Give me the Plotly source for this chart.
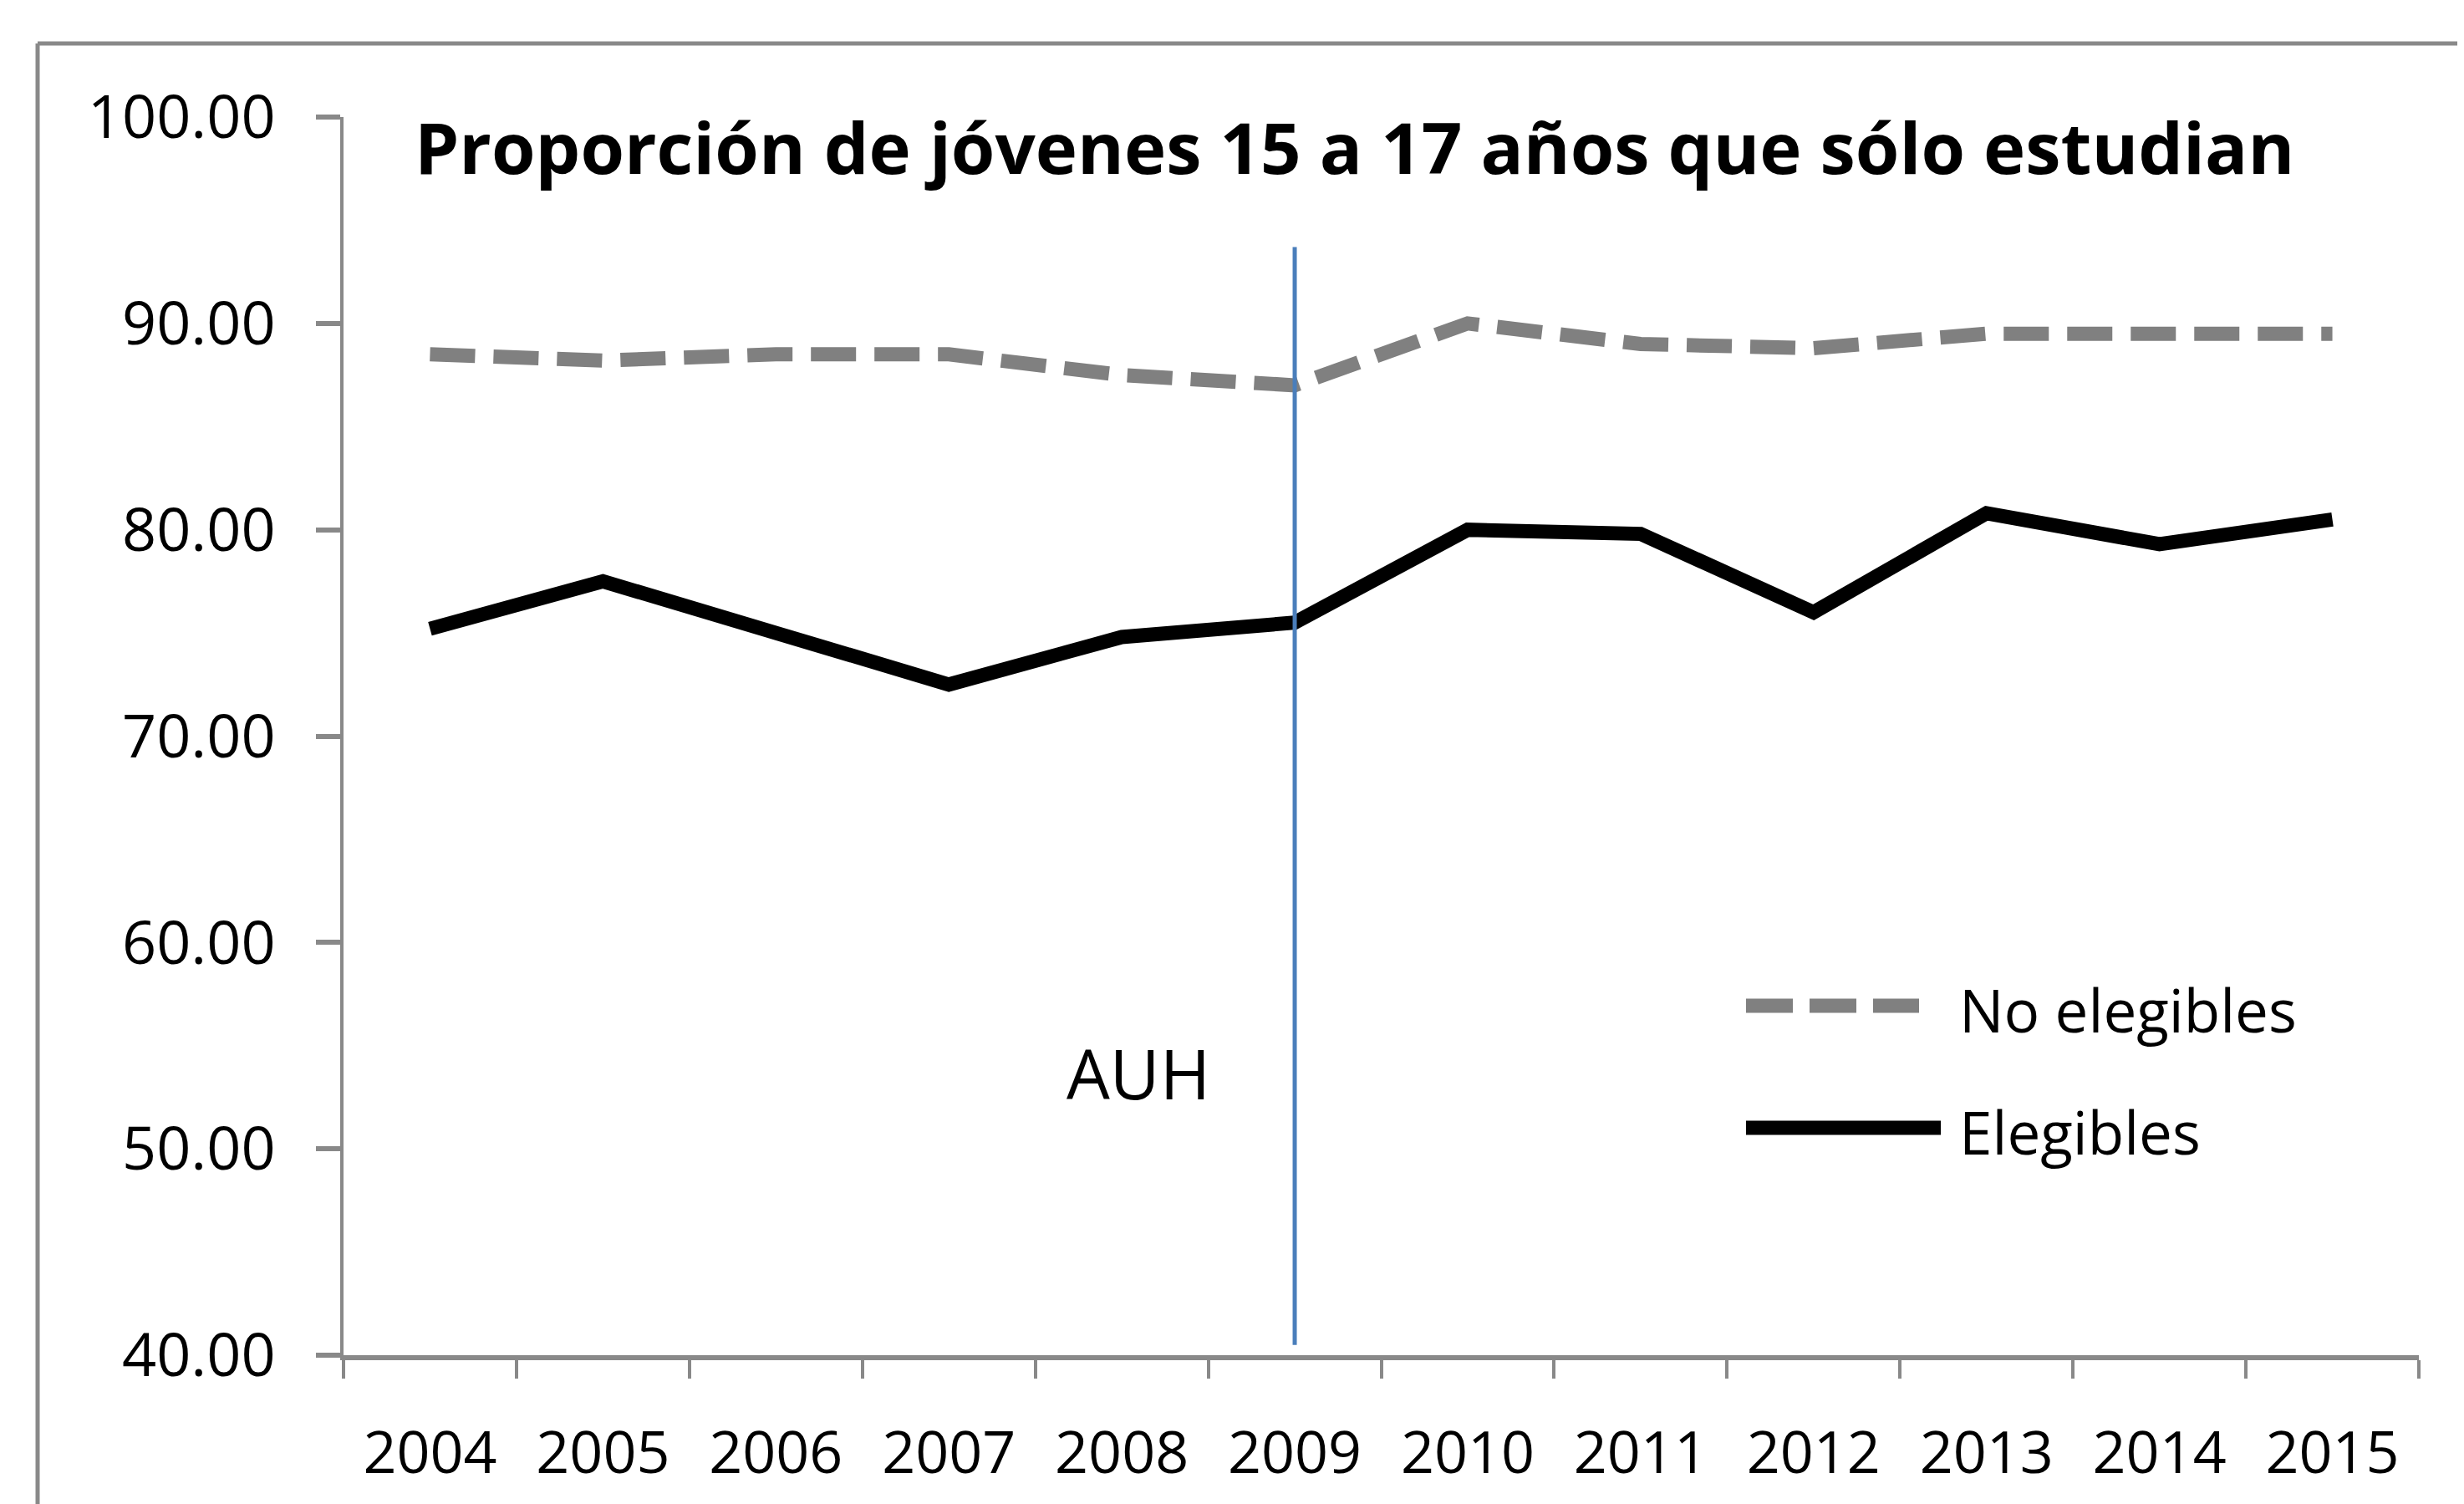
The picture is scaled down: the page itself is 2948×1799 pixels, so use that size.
import plotly.graph_objects as go

# data
years = ["2004", "2005", "2006", "2007", "2008", "2009",
         "2010", "2011", "2012", "2013", "2014", "2015"]
no_elegibles = [88.5, 88.2, 88.5, 88.5, 87.5, 87.0,
                90.0, 89.0, 88.8, 89.5, 89.5, 89.5]
elegibles = [75.2, 77.5, 75.0, 72.5, 74.8, 75.5,
             80.0, 79.8, 76.0, 80.8, 79.3, 80.5]
auh_year = "2009"
auh_span = [40.5, 93.7]
y_ticks = [40, 50, 60, 70, 80, 90, 100]

title_text = "Proporción de jóvenes 15 a 17 años que sólo estudian"
legend_names = ["No elegibles", "Elegibles"]

# the page body adds an 8px margin, so the figure is drawn 8px smaller
OFF = 8
W, H = 2948 - OFF, 1799 - OFF
# plot area on the page: x 411..2894, y 140..1621
L, R, T, B = 411 - OFF, 2948 - 2894, 140 - OFF, 1799 - 1621
pw, ph = W - L - R, H - T - B


def px_x(x):
    # page pixel -> paper coordinate
    return (x - OFF - L) / pw


def px_y(y):
    return (H - B - (y - OFF)) / ph


FONT = "Open Sans"
GRAY_AX = "#898989"

fig = go.Figure()

fig.add_trace(go.Scatter(
    x=years, y=no_elegibles, name=legend_names[0], mode="lines",
    line=dict(color="#808080", width=17, dash="54px,22px")))

fig.add_trace(go.Scatter(
    x=years, y=elegibles, name=legend_names[1], mode="lines",
    line=dict(color="#000000", width=17)))

fig.add_trace(go.Scatter(
    x=[auh_year, auh_year], y=auh_span, mode="lines",
    line=dict(color="#4a7ebb", width=5), showlegend=False))

shapes = [
    # chart frame (left and top edges, the rest runs off the picture)
    dict(type="line", xref="paper", yref="paper",
         x0=px_x(45), x1=px_x(45), y0=px_y(52), y1=px_y(1900),
         line=dict(color=GRAY_AX, width=5)),
    dict(type="line", xref="paper", yref="paper",
         x0=px_x(45), x1=px_x(3100), y0=px_y(52), y1=px_y(52),
         line=dict(color=GRAY_AX, width=5)),
    # legend samples
    dict(type="line", xref="paper", yref="paper",
         x0=px_x(2089), x1=px_x(2296), y0=px_y(1203), y1=px_y(1203),
         line=dict(color="#808080", width=17, dash="56px,20px")),
    dict(type="line", xref="paper", yref="paper",
         x0=px_x(2089), x1=px_x(2322), y0=px_y(1349), y1=px_y(1349),
         line=dict(color="#000000", width=17)),
]

annotations = [
    dict(text="<b>" + title_text + "</b>", xref="paper", yref="paper",
         x=px_x(1620), y=px_y(175), xanchor="center", yanchor="middle",
         showarrow=False, font=dict(family=FONT, size=85, color="black")),
    dict(text="AUH", xref="paper", yref="paper",
         x=px_x(1362), y=px_y(1283), xanchor="center", yanchor="middle",
         showarrow=False, font=dict(family=FONT, size=82, color="black")),
    dict(text=legend_names[0], xref="paper", yref="paper",
         x=px_x(2342), y=px_y(1207), xanchor="left", yanchor="middle",
         showarrow=False, font=dict(family=FONT, size=71, color="black")),
    dict(text=legend_names[1], xref="paper", yref="paper",
         x=px_x(2342), y=px_y(1353), xanchor="left", yanchor="middle",
         showarrow=False, font=dict(family=FONT, size=71, color="black")),
]

fig.update_layout(
    width=W, height=H,
    margin=dict(l=L, r=R, t=T, b=B),
    paper_bgcolor="white", plot_bgcolor="white",
    showlegend=False,
    font=dict(family=FONT, size=70, color="black"),
    shapes=shapes, annotations=annotations,
)

fig.update_xaxes(
    type="category", categoryorder="array", categoryarray=years,
    range=[-0.5, len(years) - 0.5], automargin=False,
    showgrid=False, zeroline=False,
    showline=True, linecolor=GRAY_AX, linewidth=6,
    ticks="outside", tickson="boundaries", ticklen=22, tickwidth=4,
    tickcolor=GRAY_AX, ticklabelstandoff=51,
    tickfont=dict(family=FONT, size=70, color="black"),
)

fig.update_yaxes(
    range=[40, 100], tickvals=y_ticks, tickformat=".2f", automargin=False,
    showgrid=False, zeroline=False,
    showline=True, linecolor=GRAY_AX, linewidth=4,
    ticks="outside", ticklen=29, tickwidth=6, tickcolor=GRAY_AX,
    ticklabelstandoff=34,
    tickfont=dict(family=FONT, size=72, color="black"),
)

fig.write_html("out.html")
